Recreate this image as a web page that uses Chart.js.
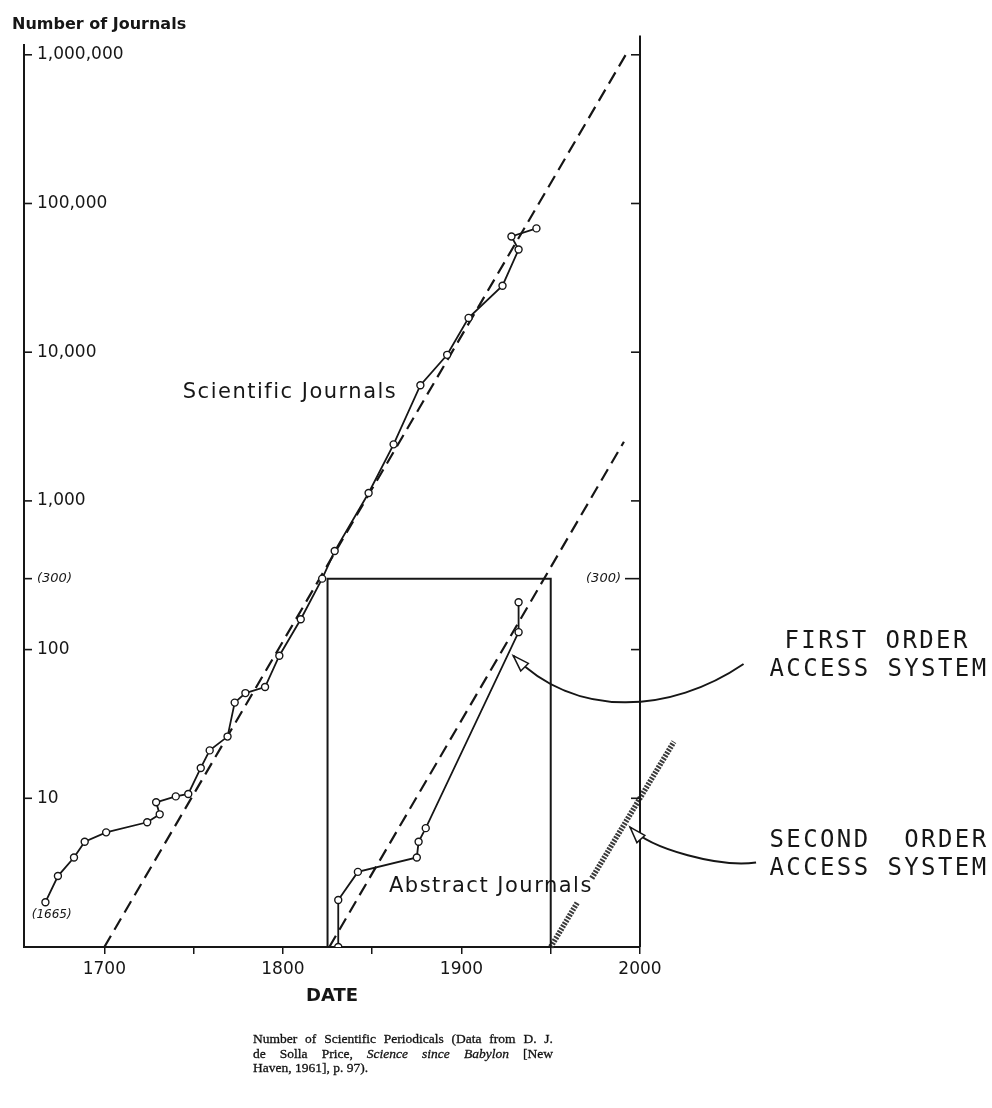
<!DOCTYPE html>
<html><head><meta charset="utf-8">
<script src="https://cdn.jsdelivr.net/npm/chart.js@4.4.1/dist/chart.umd.min.js"></script>
<style>
html,body{margin:0;padding:0;background:#fff;}
#wrap{position:relative;width:992px;height:1108px;}
#caption{position:absolute;left:253px;top:1032px;width:300px;font-family:"Liberation Serif",serif;font-size:13.5px;color:#111;line-height:14.5px;-webkit-text-stroke:0.3px #111;}
.j{text-align:justify;text-align-last:justify;}
</style></head><body>
<div id="wrap"><canvas id="c"></canvas>
<div id="caption"><div class="j">Number of Scientific Periodicals (Data from D. J.</div><div class="j">de Solla Price, <i>Science since Babylon</i> [New</div><div>Haven, 1961], p. 97).</div></div></div>
<script>
// ---- data ----
const sciYears  = [1667,1674,1683,1689,1701,1724,1731,1729,1740,1747,1754,1759,1769,1773,1779,1790,1798,1810,1822,1829,1848,1862,1877,1892,1904,1923,1932,1928,1942];
const sciValues = [2,3,4,5.1,5.9,6.9,7.8,9.4,10.3,10.7,16,21,26,44,51,56,91,160,300,460,1130,2400,6000,9600,17000,28000,49000,60000,68000];
const sciTrendYears  = [1700,1992];
const sciTrendValues = [1,1000000];
const absYears  = [1831,1831,1842,1875,1876,1880,1932,1932];
const absValues = [1,2.07,3.2,4.0,5.1,6.3,131,208];
const absTrendYears  = [1826,1991];
const absTrendValues = [1,2500];
const secondYears  = [1950,1965,1969,1973,2019];
const secondValues = [1,2,null,2.9,24];
const boxYears  = [1825,1825,1950,1950];
const boxValues = [1,300,300,1];
const frameYears  = [2000,2000];
const frameValues = [1,1350000];
const yTickValues = [1,10,100,300,1000,10000,100000,1000000];
const yTickLabels = ['','10','100','(300)','1,000','10,000','100,000','1,000,000'];
const rightTickValues = [10,100,300,1000,10000,100000,1000000];
const xTickValues = [1700,1750,1800,1850,1900,1950,2000];
const xTickLabels = ['1700','','1800','','1900','','2000'];

const INK = '#161616';
const pts = (xs, ys) => xs.map((v, i) => ({x: v, y: ys[i]}));

Chart.defaults.font.family = 'DejaVu Sans';
Chart.defaults.color = INK;

const annot = {
  id: 'annot',
  afterDatasetsDraw(chart) {
    const {ctx, chartArea, scales: {x, y}} = chart;
    const X = v => x.getPixelForValue(v), Y = v => y.getPixelForValue(v);
    ctx.save();
    ctx.strokeStyle = INK; ctx.fillStyle = INK; ctx.lineWidth = 1.6;
    // inward ticks on left axis
    yTickValues.forEach(v => { if (v === 1) return;
      ctx.beginPath(); ctx.moveTo(chartArea.left, Y(v)); ctx.lineTo(chartArea.left + 8, Y(v)); ctx.stroke(); });
    // ticks on the 2000 line
    const rx = X(frameYears[0]);
    rightTickValues.forEach(v => {
      const len = v === 300 ? 15 : 9;
      ctx.beginPath(); ctx.moveTo(rx, Y(v)); ctx.lineTo(rx - len, Y(v)); ctx.stroke(); });
    // texts
    ctx.textBaseline = 'middle';
    ctx.textAlign = 'center';
    ctx.letterSpacing = '1.5px';
    ctx.font = '21px "DejaVu Sans"';
    ctx.fillText('Scientific Journals', X(1804), Y(5370));
    ctx.fillText('Abstract Journals', X(1916.5), Y(2.54));
    ctx.letterSpacing = '0px';
    ctx.font = 'italic 12px "DejaVu Sans"';
    ctx.fillText('(1665)', X(1670.5), Y(1.64));
    ctx.textAlign = 'right';
    ctx.font = 'italic 13px "DejaVu Sans"';
    ctx.fillText('(300)', rx - 19, Y(300));
    // access-system labels
    ctx.font = '24px "DejaVu Sans Mono"';
    ctx.letterSpacing = '2.4px';
    ctx.textAlign = 'left';
    const lx = X(2072.5);
    ctx.fillText('FIRST ORDER', lx + 15, Y(113));
    ctx.fillText('ACCESS SYSTEM', lx, Y(73));
    ctx.fillText('SECOND  ORDER', lx, Y(5.2));
    ctx.fillText('ACCESS SYSTEM', lx, Y(3.37));
    ctx.letterSpacing = '0px';
    // arrows
    const P = a => [X(a[0]), Y(a[1])];
    function arrow(s, c1, c2, e) {
      const [p0, q1, q2, p3] = [s, c1, c2, e].map(P);
      ctx.lineWidth = 2;
      ctx.beginPath(); ctx.moveTo(...p0); ctx.bezierCurveTo(...q1, ...q2, ...p3); ctx.stroke();
      const ang = Math.atan2(p3[1] - q2[1], p3[0] - q2[0]);
      const L = 17, w = 0.32;
      ctx.lineWidth = 1.5;
      ctx.beginPath(); ctx.moveTo(...p3);
      ctx.lineTo(p3[0] - L * Math.cos(ang - w), p3[1] - L * Math.sin(ang - w));
      ctx.lineTo(p3[0] - L * Math.cos(ang + w), p3[1] - L * Math.sin(ang + w));
      ctx.closePath(); ctx.fillStyle = '#fff'; ctx.fill(); ctx.stroke(); ctx.fillStyle = INK;
    }
    arrow([2058, 80], [2017, 37], [1964, 34], [1929, 91]);
    arrow([2065, 3.7], [2045.5, 3.42], [2006, 4.5], [1994.4, 6.4]);
    ctx.restore();
  }
};

new Chart(document.getElementById('c'), {
  type: 'line',
  data: {
    datasets: [
      {data: pts(sciYears, sciValues), borderColor: INK, borderWidth: 1.8, pointRadius: 3.5,
       pointBackgroundColor: '#fff', pointBorderColor: INK, pointBorderWidth: 1.4},
      {data: pts(sciTrendYears, sciTrendValues), borderColor: INK, borderWidth: 2.2, borderDash: [13, 7], pointRadius: 0},
      {data: pts(absYears, absValues), borderColor: INK, borderWidth: 1.8, pointRadius: 3.5,
       pointBackgroundColor: '#fff', pointBorderColor: INK, pointBorderWidth: 1.4},
      {data: pts(absTrendYears, absTrendValues), borderColor: INK, borderWidth: 2.2, borderDash: [13, 7], pointRadius: 0, clip: false},
      {data: pts(boxYears, boxValues), borderColor: INK, borderWidth: 2, pointRadius: 0},
      {data: pts(frameYears, frameValues), borderColor: INK, borderWidth: 2, pointRadius: 0, clip: false},
      {data: pts(secondYears, secondValues), borderColor: '#3a3a3a', borderWidth: 5.5, borderDash: [2, 1.3],
       pointRadius: 0, clip: false, spanGaps: false}
    ]
  },
  options: {
    responsive: true, maintainAspectRatio: false, animation: false, events: [],
    layout: {padding: {left: 12, right: 352, top: 0, bottom: 101}},
    plugins: {
      legend: {display: false}, tooltip: {enabled: false},
      title: {display: true, text: 'Number of Journals', align: 'start', color: INK,
              font: {size: 16, weight: 'bold'}, padding: {top: 15, bottom: 11}}
    },
    scales: {
      x: {
        type: 'linear', min: 1655, max: 2000,
        afterBuildTicks: ax => { ax.ticks = xTickValues.map(v => ({value: v})); },
        afterFit: ax => { ax.height = 60; },
        ticks: {autoSkip: false, maxRotation: 0, padding: 5, font: {size: 17}, color: INK,
                callback: (v, i) => xTickLabels[i]},
        grid: {drawOnChartArea: false, drawTicks: true, tickLength: 7, color: INK, lineWidth: 1.5},
        border: {display: true, color: INK, width: 2},
        title: {display: true, text: 'DATE', font: {size: 18, weight: 'bold'}, color: INK, padding: {top: 0, bottom: 0}}
      },
      y: {
        type: 'logarithmic', min: 1, max: 1160000,
        afterBuildTicks: ax => { ax.ticks = yTickValues.map(v => ({value: v})); },
        afterFit: ax => { ax.width = 12; },
        ticks: {mirror: true, padding: 13, autoSkip: false, color: INK,
                font: c => (c.tick && c.tick.value === 300) ? {size: 13, style: 'italic'} : {size: 17},
                callback: (v, i) => yTickLabels[i]},
        grid: {drawOnChartArea: false, drawTicks: false},
        border: {display: true, color: INK, width: 2}
      }
    }
  },
  plugins: [annot]
});
</script>
</body></html>
